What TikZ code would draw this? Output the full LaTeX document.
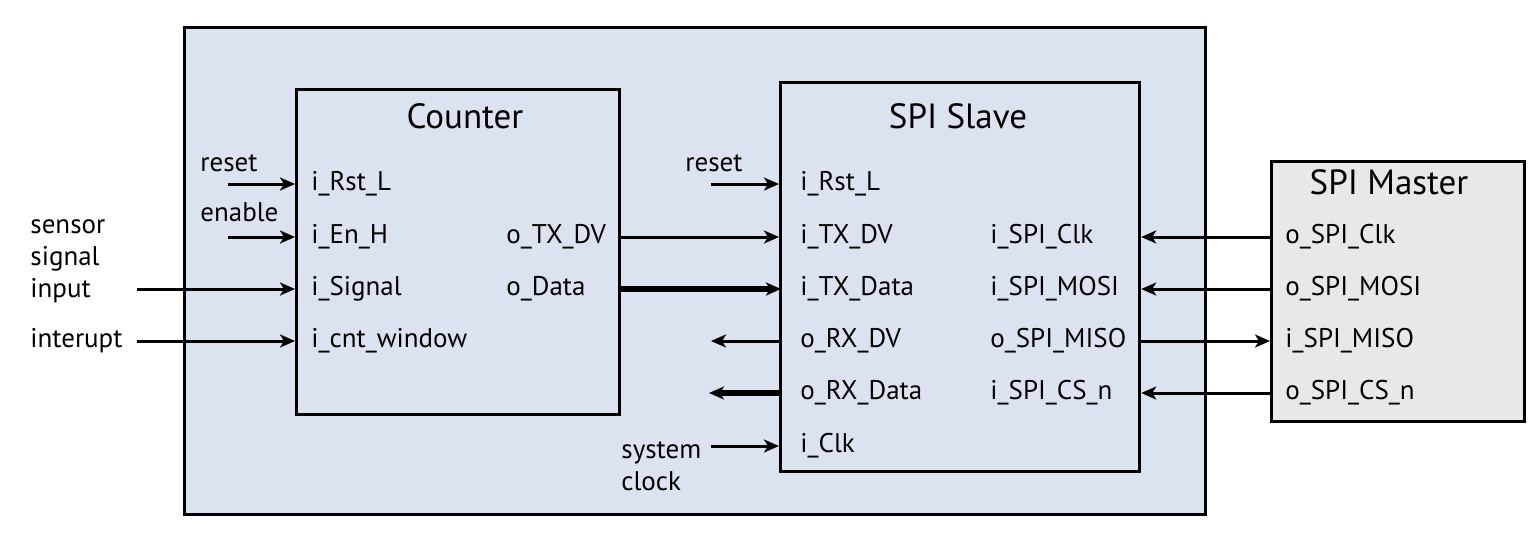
\documentclass[tikz,border=0pt]{standalone}
\usepackage{fontspec}
\setmainfont{PT Sans}
\usetikzlibrary{arrows.meta}
\definecolor{bgblue}{RGB}{220,227,240}
\definecolor{mgray}{RGB}{232,232,232}
\tikzset{
  box/.style={draw=black, line width=1.6pt},
  port/.style={anchor=west, inner sep=0pt, font=\fontsize{13.5}{16}\selectfont},
  ttl/.style={inner sep=0pt, font=\fontsize{17.5}{20}\selectfont},
  lbl/.style={anchor=west, inner sep=0pt, font=\fontsize{13.5}{16}\selectfont, align=left},
  arr/.style={line width=1.5pt, -{Stealth[length=7.5pt, width=6.5pt, inset=2pt]}},
  tarr/.style={line width=3pt, -{Stealth[length=7.5pt, width=6.5pt, inset=2pt]}, shorten >=-1pt},
}
\begin{document}
\begin{tikzpicture}[x=0.5pt, y=-0.5pt]
\useasboundingbox (0,0) rectangle (1540,537);
% outer container
\node[box, fill=bgblue, minimum width=510.5pt, minimum height=243.5pt, anchor=north west, inner sep=0pt] (top) at (183,26) {};
% SPI master
\node[box, fill=mgray, minimum width=126.5pt, minimum height=130pt, anchor=north west, inner sep=0pt] (master) at (1270,160) {};
% Counter
\node[box, minimum width=161.5pt, minimum height=162.5pt, anchor=north west, inner sep=0pt] (counter) at (295,88) {};
% SPI slave
\node[box, minimum width=179.5pt, minimum height=194.5pt, anchor=north west, inner sep=0pt] (slave) at (779,81) {};

% titles
\node[ttl] (tCounter) at (465,116) {Counter};
\node[ttl] (tSlave) at (958,116) {SPI Slave};
\node[ttl] (tMaster) at (1389,182) {SPI Master};

% counter ports
\node[port] (cRst) at (311,184) {i\_Rst\_L};
\node[port] (cEn) at (311,237) {i\_En\_H};
\node[port] (cSig) at (311,289) {i\_Signal};
\node[port] (cWin) at (311,341) {i\_cnt\_window};
\node[port] (cTXDV) at (506,237) {o\_TX\_DV};
\node[port] (cData) at (506,289) {o\_Data};

% slave ports
\node[port] (sRst) at (800,184) {i\_Rst\_L};
\node[port] (sTXDV) at (800,237) {i\_TX\_DV};
\node[port] (sTXData) at (800,289) {i\_TX\_Data};
\node[port] (sRXDV) at (800,341) {o\_RX\_DV};
\node[port] (sRXData) at (800,393) {o\_RX\_Data};
\node[port] (sClk) at (800,446) {i\_Clk};
\node[port] (sSClk) at (990,237) {i\_SPI\_Clk};
\node[port] (sMOSI) at (990,289) {i\_SPI\_MOSI};
\node[port] (sMISO) at (990,341) {o\_SPI\_MISO};
\node[port] (sCS) at (990,393) {i\_SPI\_CS\_n};

% master ports
\node[port] (mClk) at (1285,237) {o\_SPI\_Clk};
\node[port] (mMOSI) at (1285,289) {o\_SPI\_MOSI};
\node[port] (mMISO) at (1285,341) {i\_SPI\_MISO};
\node[port] (mCS) at (1285,393) {o\_SPI\_CS\_n};

% external labels
\node[lbl] (lReset1) at (200,163) {reset};
\node[lbl] (lEnable) at (200,212) {enable};
\node[lbl] (lSensor) at (30,261) {sensor\\signal\\input};
\node[lbl] (lInt) at (30,341) {interupt};
\node[lbl] (lReset2) at (685,163) {reset};
\node[lbl] (lSys) at (621,466) {system\\clock};

% free ends
\coordinate (eRst) at (228,184);
\coordinate (eEn) at (228,237);
\coordinate (eSig) at (137,289);
\coordinate (eInt) at (137,341);
\coordinate (eSRst) at (711,184);
\coordinate (eRXDV) at (711,341);
\coordinate (eRXData) at (711,393);
\coordinate (eSys) at (711,446);

% arrows into counter
\draw[arr] (eRst) -- (eRst -| counter.west);
\draw[arr] (eEn) -- (eEn -| counter.west);
\draw[arr] (eSig) -- (eSig -| counter.west);
\draw[arr] (eInt) -- (eInt -| counter.west);
% counter to slave
\draw[arr] (cTXDV -| counter.east) -- (cTXDV -| slave.west);
\draw[tarr] (cData -| counter.east) -- (cData -| slave.west);
% slave left side
\draw[arr] (eSRst) -- (eSRst -| slave.west);
\draw[arr] (eRXDV -| slave.west) -- (eRXDV);
\draw[tarr] (eRXData -| slave.west) -- (eRXData);
\draw[arr] (eSys) -- (eSys -| slave.west);
% master <-> slave
\draw[arr] (mClk -| master.west) -- (mClk -| slave.east);
\draw[arr] (mMOSI -| master.west) -- (mMOSI -| slave.east);
\draw[arr] (mMISO -| slave.east) -- (mMISO -| master.west);
\draw[arr] (mCS -| master.west) -- (mCS -| slave.east);
\end{tikzpicture}
\end{document}
